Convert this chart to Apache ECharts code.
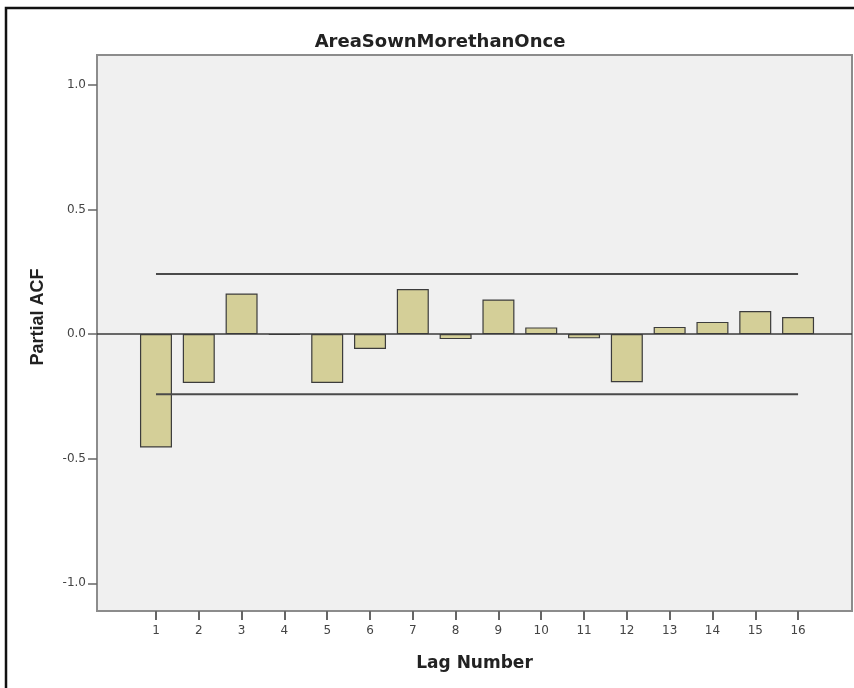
<!DOCTYPE html>
<html>
<head>
<meta charset="utf-8">
<script src="https://cdn.jsdelivr.net/npm/echarts@6/dist/echarts.min.js"></script>
<style>
  html, body { margin: 0; padding: 0; background: #ffffff; }
  #chart { width: 854px; height: 688px; }
</style>
</head>
<body>
<div id="chart"></div>
<script>
// Partial autocorrelation of AreaSownMorethanOnce by lag
const lags = [1, 2, 3, 4, 5, 6, 7, 8, 9, 10, 11, 12, 13, 14, 15, 16];
const partialAcf = [-0.455, -0.196, 0.163, -0.003, -0.196, -0.060, 0.181, -0.020,
                    0.139, 0.027, -0.017, -0.193, 0.029, 0.049, 0.093, 0.069];
// 95% confidence limits
const upperLimit = 0.241;
const lowerLimit = -0.241;
const yTicks = [-1.0, -0.5, 0.0, 0.5, 1.0];

const chart = echarts.init(document.getElementById('chart'), null, { renderer: 'canvas' });

const barData = lags.map((l, i) => [l, partialAcf[i]]);
const firstLag = lags[0];
const lastLag = lags[lags.length - 1];

const option = {
  animation: false,
  backgroundColor: '#ffffff',
  title: {
    text: 'AreaSownMorethanOnce',
    left: 435,
    top: 28,
    textAlign: 'center',
    textStyle: {
      fontFamily: 'DejaVu Sans',
      fontWeight: 'bold',
      fontSize: 18,
      color: '#222222'
    }
  },
  grid: {
    left: 97,
    top: 55,
    right: 2,
    bottom: 77,
    show: true,
    backgroundColor: '#f0f0f0',
    borderColor: '#8c8c8c',
    borderWidth: 2
  },
  xAxis: {
    type: 'value',
    min: -0.378,
    max: 17.26,
    name: 'Lag Number',
    nameLocation: 'middle',
    nameGap: 44,
    nameTextStyle: {
      fontFamily: 'DejaVu Sans',
      fontWeight: 'bold',
      fontSize: 17,
      color: '#222222'
    },
    splitLine: { show: false },
    axisLine: { show: true, onZero: false, lineStyle: { color: '#8c8c8c', width: 2 } },
    axisTick: {
      show: true,
      customValues: lags,
      length: 9,
      lineStyle: { color: '#666666', width: 2 }
    },
    axisLabel: {
      customValues: lags,
      margin: 14,
      fontFamily: 'DejaVu Sans',
      fontSize: 12,
      color: '#444444',
      formatter: v => String(Math.round(v))
    }
  },
  yAxis: {
    type: 'value',
    min: -1.111,
    max: 1.12,
    splitLine: { show: false },
    axisLine: { show: true, onZero: false, lineStyle: { color: '#8c8c8c', width: 2 } },
    axisTick: {
      show: true,
      customValues: yTicks,
      length: 9,
      lineStyle: { color: '#666666', width: 1.5 }
    },
    axisLabel: {
      customValues: yTicks,
      margin: 11,
      fontFamily: 'DejaVu Sans',
      fontSize: 12,
      color: '#444444',
      formatter: v => v.toFixed(1)
    }
  },
  graphic: [
    {
      type: 'rect',
      silent: true,
      z: 100,
      shape: { x: 6, y: 8, width: 860, height: 700 },
      style: { fill: 'none', stroke: '#111111', lineWidth: 2.5 }
    },
    {
      type: 'text',
      x: 38,
      y: 317,
      rotation: Math.PI / 2,
      style: {
        text: 'Partial ACF',
        textAlign: 'center',
        textVerticalAlign: 'middle',
        font: 'bold 18px "Liberation Sans", Arial, sans-serif',
        fill: '#222222'
      }
    }
  ],
  series: [
    {
      type: 'bar',
      data: barData,
      barWidth: 32,
      itemStyle: {
        color: '#d4cf98',
        borderColor: '#3c3c3c',
        borderWidth: 1.2
      },
      markLine: {
        silent: true,
        symbol: 'none',
        label: { show: false },
        lineStyle: { color: '#3a3a3a', width: 1.5, type: 'solid' },
        data: [{ yAxis: 0 }]
      }
    },
    {
      type: 'line',
      data: [[firstLag, upperLimit], [lastLag, upperLimit]],
      symbol: 'none',
      lineStyle: { color: '#4a4a4a', width: 2 },
      z: 5
    },
    {
      type: 'line',
      data: [[firstLag, lowerLimit], [lastLag, lowerLimit]],
      symbol: 'none',
      lineStyle: { color: '#4a4a4a', width: 2 },
      z: 5
    }
  ]
};

chart.setOption(option);
</script>
</body>
</html>
